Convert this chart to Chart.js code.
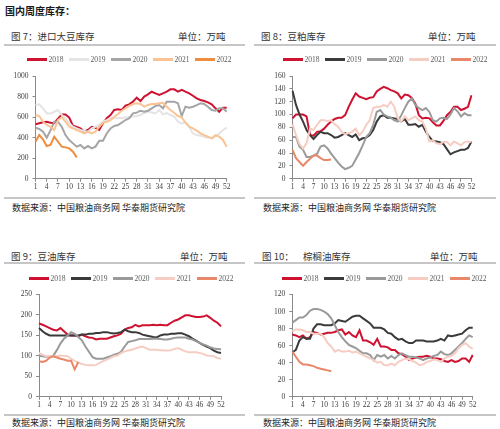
<!DOCTYPE html>
<html><head><meta charset="utf-8">
<script src="https://cdn.jsdelivr.net/npm/chart.js@4.4.0/dist/chart.umd.min.js"></script>
<style>
body{margin:0;width:500px;height:429px;background:#fff;position:relative;overflow:hidden;font-family:"Noto Sans CJK SC",sans-serif;}
.abs{position:absolute;white-space:nowrap;}
.hdr{font-size:10px;font-weight:bold;color:#1a1a1a;line-height:12px}
.title{font-size:9.5px;color:#333;line-height:12px}
.rule{position:absolute;height:2px;background:#c6c6c6}
.src{font-size:9px;color:#262626;line-height:12px}
.legend{position:absolute;display:flex;align-items:center;height:10px;font-family:"Liberation Serif",serif;font-size:7.5px;color:#595959;}
.legend .it{display:flex;align-items:center;margin-right:5.5px}
.legend .ln{width:20px;height:3px;margin-right:1.5px}
canvas{position:absolute}
</style></head>
<body>
<script>
// ---------- data ----------
const weeks = Array.from({length:52},(_,i)=>String(i+1));
const xTickLabels = ['1','4','7','10','13','16','19','22','25','28','31','34','37','40','43','46','49','52'];
const years = ['2018','2019','2020','2021','2022'];

// 图7 进口大豆库存 (万吨)
const soybean2018 = [530,540,550,555,545,540,585,625,625,595,515,505,490,460,475,505,495,475,540,590,620,670,675,670,711,724,750,789,756,799,821,847,831,815,831,847,870,870,847,864,847,831,808,782,766,756,743,724,685,652,692,692];
const soybean2019 = [718,724,685,636,636,652,669,620,588,539,506,490,474,464,458,490,506,523,555,571,588,588,590,590,595,600,605,610,620,640,653,645,636,669,627,640,620,604,555,539,549,506,441,425,419,409,399,393,409,441,474,497];
const soybean2020 = [497,484,458,400,470,555,555,506,425,377,344,312,328,295,318,295,312,370,370,440,490,513,523,545,571,588,636,643,662,652,662,685,708,717,685,750,750,750,734,610,701,692,701,717,734,727,701,669,662,685,685,652];
const soybean2021 = [620,610,555,523,506,474,571,600,555,506,490,474,458,442,458,442,458,506,545,555,571,604,630,662,685,708,727,734,727,701,717,727,727,734,740,701,669,643,610,597,545,506,490,468,442,425,409,393,425,409,377,312];
const soybean2022 = [360,425,383,318,328,409,360,312,305,295,263,208];

// 图8 豆粕库存
const meal2018 = [94,100,100,100,97,68,67,73,74,78,84,89,93,95,95,99,112,123,133,128,126,124,126,127,136,140,143,141,138,136,133,125,131,130,126,117,99,94,95,94,88,83,83,90,99,104,112,112,107,109,112,130];
const meal2019 = [137,115,100,89,76,68,62,68,73,71,71,68,64,65,68,71,68,65,69,60,63,64,68,76,89,97,99,95,95,94,93,89,93,84,84,85,81,84,73,65,59,58,57,54,46,38,41,43,45,45,48,58];
const meal2020 = [65,65,50,45,34,34,36,39,50,52,47,39,32,25,19,15,17,20,30,40,52,65,71,84,104,107,100,97,95,91,89,99,110,120,125,115,110,107,110,104,91,89,94,95,93,100,110,105,97,102,99,99];
const meal2021 = [85,68,54,47,55,78,76,84,91,91,90,91,85,81,73,69,71,73,78,68,73,84,91,110,112,112,115,112,120,112,94,89,97,91,94,97,91,89,78,58,60,55,54,57,57,52,58,55,52,57,58,57];
const meal2022 = [45,32,26,20,26,31,36,36,32,29,29,30];

// 图9 豆油库存
const soyoil2018 = [179,176,172,168,164,162,168,160,152,150,150,148,152,148,145,144,140,142,142,142,145,148,150,154,164,168,170,176,172,175,175,175,176,175,176,175,175,181,186,189,194,199,199,197,195,195,196,199,193,186,181,172];
const soyoil2019 = [168,160,154,150,150,150,150,150,150,150,150,150,152,152,154,154,156,156,158,158,156,155,156,158,164,160,158,158,156,152,150,148,146,145,150,152,152,154,154,155,155,152,148,142,137,132,127,123,119,113,109,107];
const soyoil2020 = [100,99,98,98,100,114,130,142,150,158,154,146,138,123,110,97,93,93,93,96,99,103,105,110,123,134,136,138,141,141,141,141,142,142,141,140,140,142,144,145,145,145,142,140,136,132,128,125,121,118,117,116];
const soyoil2021 = [107,103,99,99,99,99,101,100,99,93,88,84,80,78,77,77,78,83,87,91,95,99,101,107,111,113,115,118,121,123,119,115,115,115,114,113,113,114,117,119,115,111,109,109,109,107,105,101,100,99,95,93];
const soyoil2022 = [87,85,88,96,99,96,93,91,88,88,67,85];

// 图10 棕榈油库存
const palm2018 = [73,72,70,72,68,70,76,75,73,74,75,75,76,78,79,73,76,72,70,78,66,66,64,61,68,59,59,58,55,55,51,50,47,43,45,46,47,47,48,47,45,45,44,42,41,43,41,42,45,45,41,49];
const palm2019 = [52,55,66,70,68,68,80,85,85,84,84,84,86,90,89,88,91,94,95,95,92,89,86,81,81,81,79,75,74,70,67,68,65,63,63,66,66,66,65,65,65,66,68,66,72,71,72,73,74,78,81,81];
const palm2020 = [87,90,93,93,96,101,103,103,102,100,97,92,84,76,70,65,61,59,57,54,51,51,49,43,49,47,49,45,48,45,49,51,49,47,47,46,45,43,45,46,48,49,53,50,49,51,55,59,63,68,72,70];
const palm2021 = [77,79,79,78,76,76,74,74,74,70,63,59,53,55,53,53,54,52,53,51,49,47,45,43,40,41,37,37,39,37,41,43,45,44,42,40,37,38,41,42,44,43,41,45,47,48,51,57,61,63,59,56];
const palm2022 = [53,47,41,38,38,37,36,34,33,32,31,30];

const colorsA = ['#CE1230','#E4E4E4','#A5A5A5','#F9C394','#EE8C40'];
const colorsB = ['#CE1230','#3B3B3B','#9A9A9A','#F6CDC2','#E8876A'];
</script>

<div class="abs hdr" style="left:5px;top:5px">国内周度库存：</div>

<div class="abs title" style="left:11px;top:30px">图 7：进口大豆库存</div>
<div class="abs title" style="left:178px;top:30px">单位：万吨</div>
<div class="rule" style="left:4px;top:44px;width:241px"></div>
<div class="abs title" style="left:261px;top:30px">图 8：豆粕库存</div>
<div class="abs title" style="left:428px;top:30px">单位：万吨</div>
<div class="rule" style="left:254px;top:44px;width:242px"></div>

<div class="rule" style="left:4px;top:197px;width:241px"></div>
<div class="rule" style="left:254px;top:197px;width:242px"></div>
<div class="abs src" style="left:12px;top:202px">数据来源：中国粮油商务网 华泰期货研究院</div>
<div class="abs src" style="left:263px;top:202px">数据来源：中国粮油商务网 华泰期货研究院</div>

<div class="abs title" style="left:11px;top:250px">图 9：豆油库存</div>
<div class="abs title" style="left:180px;top:250px">单位：万吨</div>
<div class="rule" style="left:4px;top:262px;width:241px"></div>
<div class="abs title" style="left:262px;top:250px">图 10：</div>
<div class="abs title" style="left:303px;top:250px">棕榈油库存</div>
<div class="abs title" style="left:430px;top:250px">单位：万吨</div>
<div class="rule" style="left:254px;top:262px;width:242px"></div>

<div class="rule" style="left:4px;top:414px;width:241px"></div>
<div class="rule" style="left:254px;top:414px;width:242px"></div>
<div class="abs src" style="left:12px;top:417px">数据来源：中国粮油商务网 华泰期货研究院</div>
<div class="abs src" style="left:263px;top:417px">数据来源：中国粮油商务网 华泰期货研究院</div>

<canvas id="c1" width="245" height="140" style="left:0px;top:60px"></canvas>
<canvas id="c2" width="245" height="140" style="left:250px;top:60px"></canvas>
<canvas id="c3" width="245" height="140" style="left:0px;top:278px"></canvas>
<canvas id="c4" width="245" height="140" style="left:250px;top:278px"></canvas>

<div class="legend" id="l1" style="left:27px;top:54px"></div>
<div class="legend" id="l2" style="left:283px;top:54px"></div>
<div class="legend" id="l3" style="left:29px;top:273px"></div>
<div class="legend" id="l4" style="left:282px;top:273px"></div>

<script>
const axisColor = '#8a8a8a';
const tickFont = {family:'Liberation Serif', size:7.5};

function buildLegend(id, colors){
  const el = document.getElementById(id);
  years.forEach((y,i)=>{
    const it = document.createElement('div'); it.className='it';
    const ln = document.createElement('div'); ln.className='ln'; ln.style.background=colors[i];
    const tx = document.createElement('span'); tx.textContent=y;
    it.appendChild(ln); it.appendChild(tx); el.appendChild(it);
  });
}

function makeChart(id, series, colors, yMax, yStep, g){
  new Chart(document.getElementById(id), {
    type:'line',
    data:{labels:weeks, datasets: series.map((s,i)=>({
      label:years[i], data:s, borderColor:colors[i], backgroundColor:colors[i],
      borderWidth:2, pointRadius:0, pointHoverRadius:0, tension:0, fill:false, order:5-i
    }))},
    options:{
      responsive:false, animation:false, devicePixelRatio:1,
      layout:{padding:{left:0,right:g.right,top:g.top,bottom:g.bottom}},
      plugins:{legend:{display:false}, tooltip:{enabled:false}},
      scales:{
        x:{type:'category', offset:false,
          grid:{display:true, drawOnChartArea:false, drawTicks:true, tickLength:3,
                tickColor:(c)=> (c.index % 3 === 0) ? axisColor : 'rgba(0,0,0,0)'},
          border:{display:true,color:axisColor,width:1},
          ticks:{autoSkip:false,maxRotation:0,minRotation:0,padding:1,font:tickFont,color:'#404040',
                 callback:(v,i)=> xTickLabels.includes(weeks[i]) ? weeks[i] : ''},
          afterFit:(s)=>{s.height=g.xh;}
        },
        y:{min:0,max:yMax,
          ticks:{stepSize:yStep,padding:4,font:tickFont,color:'#404040',callback:(v)=>String(v)},
          grid:{display:true, drawOnChartArea:false, drawTicks:true, tickLength:3, tickColor:axisColor},
          border:{display:true,color:axisColor,width:1},
          afterFit:(s)=>{s.width=g.yw;}
        }
      }
    }
  });
}

buildLegend('l1', colorsA);
buildLegend('l2', colorsB);
buildLegend('l3', colorsB);
buildLegend('l4', colorsB);

makeChart('c1', [soybean2018,soybean2019,soybean2020,soybean2021,soybean2022], colorsA, 1000, 100,
  {yw:35.5, right:18.3, top:16, bottom:5, xh:16.3});
makeChart('c2', [meal2018,meal2019,meal2020,meal2021,meal2022], colorsB, 160, 20,
  {yw:42.5, right:23.5, top:16, bottom:5, xh:16.3});
makeChart('c3', [soyoil2018,soyoil2019,soyoil2020,soyoil2021,soyoil2022], colorsB, 250, 50,
  {yw:39, right:24, top:16.5, bottom:5, xh:16.2});
makeChart('c4', [palm2018,palm2019,palm2020,palm2021,palm2022], colorsB, 120, 20,
  {yw:42.3, right:22.3, top:16.5, bottom:5, xh:16.2});
</script>
</body></html>
